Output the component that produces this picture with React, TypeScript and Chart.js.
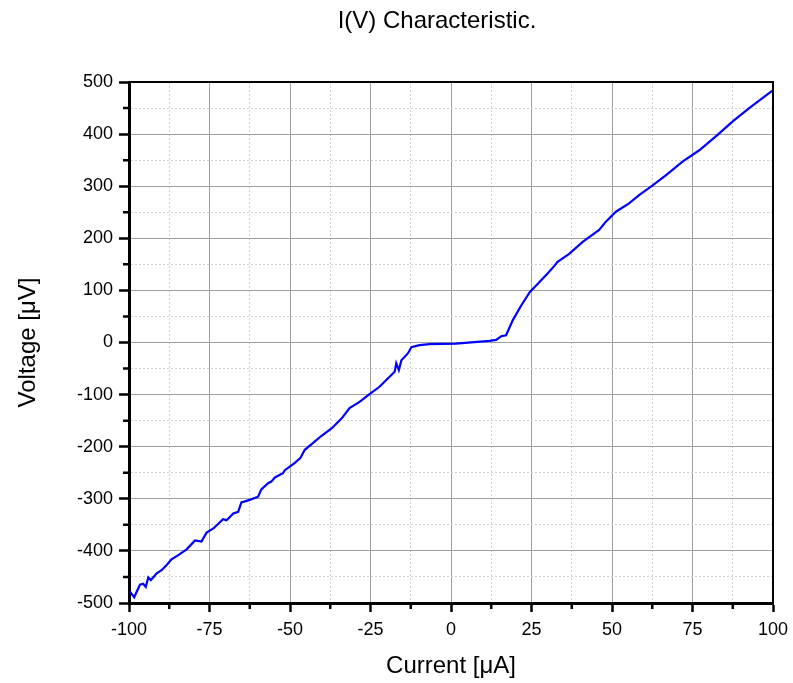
import React, { useEffect, useRef } from 'react';
import { Chart, registerables } from 'chart.js';

Chart.register(...registerables);

const chartTitle = 'I(V) Characteristic.';
const xAxisTitle = 'Current [μA]';
const yAxisTitle = 'Voltage [μV]';

const xMin = -100;
const xMax = 100;
const xMajorStep = 25;
const xMinorStep = 12.5;
const yMin = -500;
const yMax = 500;
const yMajorStep = 100;
const yMinorStep = 50;

// Current [µA]
const currents = [
  -99.7, -98.4, -96.6, -95.6, -94.8, -94.0, -93.2, -91.4, -89.9, -88.3,
  -86.8, -84.7, -82.1, -79.5, -77.5, -75.9, -73.8, -70.8, -69.7, -67.6,
  -66.1, -65.1, -62.5, -59.9, -58.9, -56.8, -55.8, -54.7, -52.2, -51.6,
  -48.5, -46.8, -45.4, -42.9, -40.2, -37.1, -34.0, -31.5, -28.4, -25.3,
  -22.2, -20.1, -17.5, -17.0, -16.2, -15.4, -13.4, -12.3, -9.8, -6.7,
  1.5, 12.0, 14.0, 15.6, 17.1, 19.2, 21.8, 24.5, 27.2, 30.2,
  32.1, 33.1, 36.7, 40.9, 46.0, 48.1, 51.2, 55.3, 58.4, 62.1,
  66.7, 71.9, 77.1, 82.7, 87.4, 92.6, 99.3, 100,
];

// Voltage [µV]
const voltages = [
  -478, -489, -465, -463, -469, -451, -456, -443, -437, -427,
  -416, -408, -397, -380, -382, -365, -357, -339, -341, -328,
  -325, -307, -302, -296, -282, -270, -267, -259, -251, -245,
  -231, -222, -206, -193, -179, -165, -146, -126, -114, -99,
  -85, -72, -56, -40, -53, -34, -21, -9, -5, -3,
  -2, 3, 5, 12, 14, 43, 71, 97, 114, 134,
  147, 155, 170, 193, 216, 232, 251, 267, 283, 299,
  321, 347, 369, 398, 424, 450, 481, 484,
];

const FONT = "'Liberation Sans', Arial, sans-serif";

const isMultiple = (v: number, step: number) => Math.abs(v / step - Math.round(v / step)) < 1e-6;

export default function App() {
  const canvasRef = useRef<HTMLCanvasElement | null>(null);

  useEffect(() => {
    const canvas = canvasRef.current;
    if (!canvas) return;

    const decorPlugin = {
      id: 'decor',
      afterDraw(chart: any) {
        const { ctx, chartArea } = chart;
        const xs = chart.scales.x;
        const ys = chart.scales.y;
        ctx.save();
        // minor ticks
        ctx.strokeStyle = '#000';
        ctx.lineWidth = 2.5;
        ctx.beginPath();
        for (let v = xMin; v <= xMax + 1e-9; v += xMinorStep) {
          if (isMultiple(v, xMajorStep)) continue;
          const px = xs.getPixelForValue(v);
          ctx.moveTo(px, chartArea.bottom);
          ctx.lineTo(px, chartArea.bottom + 6);
        }
        for (let v = yMin; v <= yMax + 1e-9; v += yMinorStep) {
          if (isMultiple(v, yMajorStep)) continue;
          const py = ys.getPixelForValue(v);
          ctx.moveTo(chartArea.left - 6, py);
          ctx.lineTo(chartArea.left, py);
        }
        ctx.stroke();
        // top and right frame
        ctx.lineWidth = 2;
        ctx.beginPath();
        ctx.moveTo(chartArea.left, chartArea.top);
        ctx.lineTo(chartArea.right, chartArea.top);
        ctx.lineTo(chartArea.right, chartArea.bottom);
        ctx.stroke();
        // chart title
        ctx.fillStyle = '#000';
        ctx.font = `24px ${FONT}`;
        ctx.textAlign = 'center';
        ctx.textBaseline = 'middle';
        ctx.fillText(chartTitle, 437, 21);
        ctx.restore();
      },
    };

    const chart = new Chart(canvas, {
      type: 'scatter',
      data: {
        datasets: [
          {
            data: currents.map((c, i) => ({ x: c, y: voltages[i] })),
            showLine: true,
            borderColor: '#0000ff',
            backgroundColor: '#0000ff',
            borderWidth: 2.2,
            pointRadius: 0,
            tension: 0,
          },
        ],
      },
      options: {
        responsive: false,
        animation: false,
        layout: { padding: { left: 0, top: 82, right: 20, bottom: 0 } },
        plugins: {
          legend: { display: false },
          tooltip: { enabled: false },
          title: { display: false },
        },
        scales: {
          x: {
            type: 'linear',
            min: xMin,
            max: xMax,
            afterFit: (scale: any) => {
              scale.height = 80;
              scale.paddingLeft = 0;
              scale.paddingRight = 0;
            },
            ticks: {
              stepSize: xMinorStep,
              maxTicksLimit: 100,
              autoSkip: false,
              maxRotation: 0,
              padding: 7,
              color: '#000',
              font: { family: FONT, size: 18 },
              callback: (v: any) => (isMultiple(Number(v), xMajorStep) ? String(v) : ''),
            },
            grid: {
              color: (ctx: any) => (isMultiple(ctx.tick.value, xMajorStep) ? '#a0a0a0' : '#cfcfcf'),
              lineWidth: 1,
              tickLength: 9,
              tickWidth: 2.5,
              tickColor: (ctx: any) => (isMultiple(ctx.tick.value, xMajorStep) ? '#000' : 'rgba(0,0,0,0)'),
            },
            border: {
              display: true,
              color: '#000',
              width: 3,
              dash: (ctx: any) => (ctx.tick && !isMultiple(ctx.tick.value, xMajorStep) ? [2, 2] : []),
            },
            title: {
              display: true,
              text: xAxisTitle,
              color: '#000',
              font: { family: FONT, size: 24 },
              padding: { top: 0, bottom: 2 },
            },
          },
          y: {
            type: 'linear',
            min: yMin,
            max: yMax,
            afterFit: (scale: any) => {
              scale.width = 129;
            },
            ticks: {
              stepSize: yMinorStep,
              maxTicksLimit: 100,
              autoSkip: false,
              padding: 6,
              color: '#000',
              font: { family: FONT, size: 18 },
              callback: (v: any) => (isMultiple(Number(v), yMajorStep) ? String(v) : ''),
            },
            grid: {
              color: (ctx: any) => (isMultiple(ctx.tick.value, yMajorStep) ? '#a0a0a0' : '#cfcfcf'),
              lineWidth: 1,
              tickLength: 10,
              tickWidth: 2.5,
              tickColor: (ctx: any) => (isMultiple(ctx.tick.value, yMajorStep) ? '#000' : 'rgba(0,0,0,0)'),
            },
            border: {
              display: true,
              color: '#000',
              width: 3,
              dash: (ctx: any) => (ctx.tick && !isMultiple(ctx.tick.value, yMajorStep) ? [2, 2] : []),
            },
            title: {
              display: true,
              text: yAxisTitle,
              color: '#000',
              font: { family: FONT, size: 24 },
              padding: { top: 14, bottom: 0 },
            },
          },
        },
      },
      plugins: [decorPlugin],
    } as any);

    return () => {
      chart.destroy();
    };
  }, []);

  return (
    <div style={{ position: 'absolute', left: 0, top: 0, width: 793, height: 683, background: '#fff' }}>
      <canvas ref={canvasRef} width={793} height={683} style={{ display: 'block' }} />
    </div>
  );
}
